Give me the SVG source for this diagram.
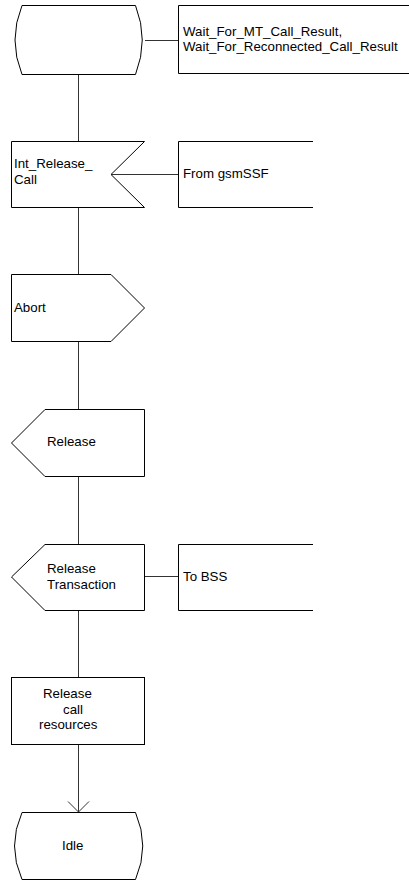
<svg xmlns="http://www.w3.org/2000/svg" width="409" height="882" viewBox="0 0 409 882">
<style>
.s{fill:#fff;stroke:#000;stroke-width:1}
.o{fill:none;stroke:#000;stroke-width:1}
.c{fill:none;stroke:#333;stroke-width:1}
text{font-family:"Liberation Sans",Arial,sans-serif;font-size:13.3px;fill:#000}
</style>
<rect width="409" height="882" fill="#fff"/>
<g id="connectors">
<line class="c" x1="78.5" y1="74" x2="78.5" y2="141"/>
<line class="c" x1="145" y1="40.5" x2="178" y2="40.5"/>
<line class="c" x1="111" y1="174.5" x2="178" y2="174.5"/>
<line class="c" x1="78.5" y1="207" x2="78.5" y2="274"/>
<line class="c" x1="78.5" y1="341" x2="78.5" y2="409"/>
<line class="c" x1="78.5" y1="476" x2="78.5" y2="544"/>
<line class="c" x1="145" y1="576.5" x2="178" y2="576.5"/>
<line class="c" x1="78.5" y1="610" x2="78.5" y2="677"/>
<line class="c" x1="78.5" y1="744" x2="78.5" y2="812"/>
<polyline class="c" points="68,801.5 78.5,812 89,801.5"/>
</g>
<g id="state-wait">
<path class="s" d="M22,5.5 H135.5 Q149,40 135.5,74.5 H22 Q8,40 22,5.5 Z"/>
</g>
<g id="comment-wait">
<path class="o" d="M409,5.5 H178.5 V73.5 H409"/>
<text x="183" y="35.5">Wait_For_MT_Call_Result,</text>
<text x="183" y="50.5">Wait_For_Reconnected_Call_Result</text>
</g>
<g id="input-int-release">
<path class="s" d="M11.5,141.5 H144.5 L111,174.5 L144.5,207.5 H11.5 Z"/>
<text x="14" y="168">Int_Release_</text>
<text x="14" y="184">Call</text>
</g>
<g id="comment-gsmssf">
<path class="o" d="M313,141.5 H178.5 V207.5 H313"/>
<text x="183" y="178">From gsmSSF</text>
</g>
<g id="output-abort">
<path class="s" d="M11.5,274.5 H111 L144.5,308 L111,341.5 H11.5 Z"/>
<text x="14" y="312">Abort</text>
</g>
<g id="output-release">
<path class="s" d="M45,409.5 H144.5 V476.5 H45 L11.5,443 Z"/>
<text x="47" y="446">Release</text>
</g>
<g id="output-release-transaction">
<path class="s" d="M45,544.5 H144.5 V610.5 H45 L11.5,577 Z"/>
<text x="47" y="573">Release</text>
<text x="47" y="589">Transaction</text>
</g>
<g id="comment-bss">
<path class="o" d="M313,544.5 H178.5 V610.5 H313"/>
<text x="183" y="581">To BSS</text>
</g>
<g id="task-release">
<rect class="s" x="11.5" y="677.5" width="133" height="67"/>
<text x="43" y="698">Release</text>
<text x="63" y="714">call</text>
<text x="39" y="729">resources</text>
</g>
<g id="state-idle">
<path class="s" d="M22,812.5 H135.5 Q150,846 135.5,879.5 H22 Q7,846 22,812.5 Z"/>
<text x="62" y="850">Idle</text>
</g>
</svg>
